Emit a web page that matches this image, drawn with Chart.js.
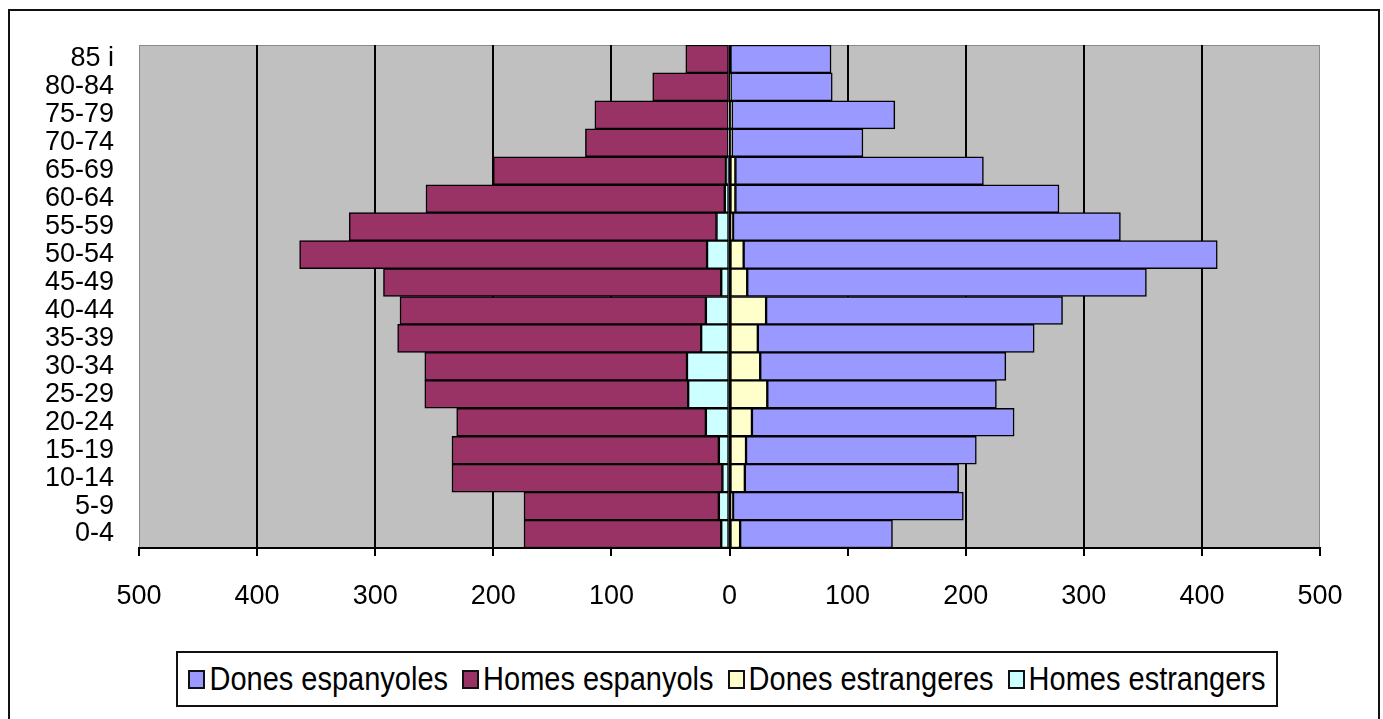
<!DOCTYPE html>
<html>
<head>
<meta charset="utf-8">
<script src="https://cdn.jsdelivr.net/npm/chart.js@4/dist/chart.umd.min.js"></script>
<style>
    body { margin: 0; background: #fff; overflow: hidden; }
    #wrap { position: relative; width: 1383px; height: 719px; }
    #frame {
        position: absolute; left: 8px; top: 9px; width: 1368px; height: 760px;
        border: 2px solid #111;
    }
    #pyramid { position: absolute; left: 0; top: 0; }
    #legend {
        position: absolute; left: 176px; top: 651px; width: 1098px; height: 52px;
        border: 2px solid #111; background: #fff;
        display: flex; align-items: center; justify-content: center;
        font-family: "Liberation Sans", Arial, sans-serif;
        font-size: 29px; color: #000; white-space: nowrap;
    }
    .item { display: flex; align-items: center; margin: 0 7px; }
    .item span { display: inline-block; transform: scaleY(1.12); }
    .box { width: 13px; height: 15px; border: 2px solid #111; margin-right: 4px; }
</style>
</head>
<body>
<div id="wrap">
    <div id="frame"></div>
    <canvas id="pyramid" width="1383" height="719"></canvas>
    <div id="legend"></div>
</div>
<script>
// age groups, top to bottom
const ageGroups = ['85 i', '80-84', '75-79', '70-74', '65-69', '60-64', '55-59', '50-54', '45-49',
    '40-44', '35-39', '30-34', '25-29', '20-24', '15-19', '10-14', '5-9', '0-4'];

const homesEspanyols  = [37, 65, 113, 121, 197, 253, 311, 345, 286, 259, 257, 222, 223, 211, 226, 229, 165, 167];
const homesEstrangers = [0, 0, 1, 1, 3, 4, 11, 19, 7, 20, 24, 36, 35, 20, 9, 6, 9, 7];
const donesEstrangeres = [0, 1, 2, 2, 5, 5, 3, 12, 15, 31, 24, 26, 32, 19, 14, 13, 3, 9];
const donesEspanyoles = [86, 86, 138, 111, 210, 274, 328, 401, 338, 251, 234, 208, 194, 222, 195, 181, 195, 129];

const xTicks = [-500, -400, -300, -200, -100, 0, 100, 200, 300, 400, 500];

const FONT = '"Liberation Sans", Arial, sans-serif';

// legend order as in the original
const legendItems = [
    { label: 'Dones espanyoles', color: '#9999FF' },
    { label: 'Homes espanyols', color: '#993366' },
    { label: 'Dones estrangeres', color: '#FFFFCC' },
    { label: 'Homes estrangers', color: '#CCFFFF' }
];

const legendEl = document.getElementById('legend');
legendItems.forEach(it => {
    const item = document.createElement('div');
    item.className = 'item';
    const box = document.createElement('div');
    box.className = 'box';
    box.style.background = it.color;
    const txt = document.createElement('span');
    txt.textContent = it.label;
    item.appendChild(box);
    item.appendChild(txt);
    legendEl.appendChild(item);
});

// grey plot area behind the bars
const plotBackground = {
    id: 'plotBackground',
    beforeDraw(chart) {
        const { ctx, chartArea: a } = chart;
        ctx.save();
        ctx.fillStyle = '#C0C0C0';
        ctx.fillRect(a.left, a.top, a.right - a.left, a.bottom - a.top);
        ctx.strokeStyle = '#8a8a8a';
        ctx.lineWidth = 1;
        ctx.strokeRect(a.left + 0.5, a.top + 0.5, a.right - a.left - 1, a.bottom - a.top);
        ctx.restore();
    }
};

function barSet(label, data, color) {
    return {
        label: label,
        data: data,
        backgroundColor: color,
        borderColor: '#000',
        borderWidth: 1.5,
        borderSkipped: false,
        barPercentage: 1,
        categoryPercentage: 1
    };
}

new Chart(document.getElementById('pyramid'), {
    type: 'bar',
    data: {
        labels: ageGroups,
        datasets: [
            // stacking order: foreigners next to the axis
            barSet('Homes estrangers', homesEstrangers.map(v => -v), '#CCFFFF'),
            barSet('Homes espanyols', homesEspanyols.map(v => -v), '#993366'),
            barSet('Dones estrangeres', donesEstrangeres, '#FFFFCC'),
            barSet('Dones espanyoles', donesEspanyoles, '#9999FF')
        ]
    },
    options: {
        indexAxis: 'y',
        responsive: false,
        animation: false,
        layout: { padding: { left: 10, right: 63, top: 45, bottom: 101 } },
        plugins: {
            legend: { display: false },
            tooltip: { enabled: false }
        },
        scales: {
            x: {
                stacked: true,
                min: -500,
                max: 500,
                afterBuildTicks: axis => { axis.ticks = xTicks.map(v => ({ value: v })); },
                afterFit: axis => { axis.height = 70; },
                ticks: {
                    color: '#000',
                    font: { family: FONT, size: 27 },
                    padding: 24,
                    maxRotation: 0,
                    callback: v => Math.abs(v)
                },
                grid: {
                    color: c => (c.tick && Math.abs(c.tick.value) === 500) ? 'rgba(0,0,0,0)' : '#000',
                    lineWidth: 2,
                    tickColor: '#000',
                    tickLength: 8
                },
                border: { display: true, color: '#000', width: 2 }
            },
            y: {
                stacked: true,
                afterFit: axis => { axis.width = 129; },
                ticks: {
                    color: '#000',
                    font: { family: FONT, size: 27 },
                    padding: 25,
                    autoSkip: false
                },
                grid: { display: false, drawTicks: false },
                border: { display: false }
            }
        }
    },
    plugins: [plotBackground]
});
</script>
</body>
</html>
